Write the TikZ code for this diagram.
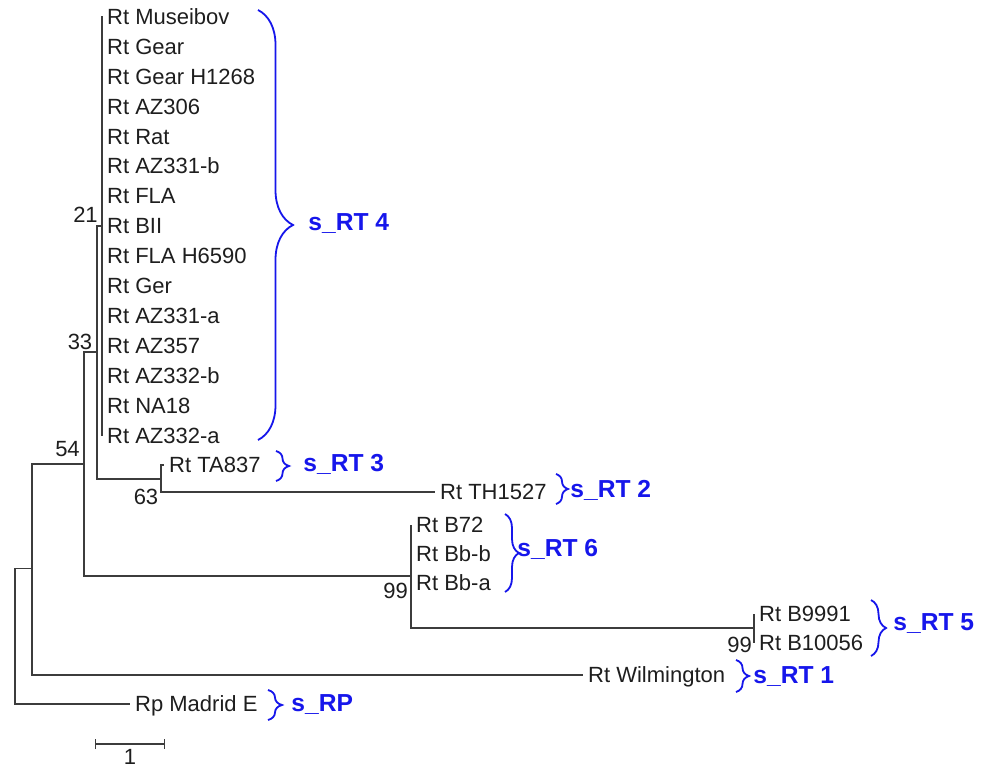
\documentclass[tikz,border=0pt]{standalone}
\usepackage{fontspec}
\setmainfont{Liberation Sans}
\usetikzlibrary{decorations.pathreplacing,arrows.meta}

\definecolor{treegray}{RGB}{60,60,60}
\definecolor{labelblack}{RGB}{30,30,30}
\definecolor{grpblue}{RGB}{22,22,235}

\tikzset{
  branch/.style={draw=treegray, line width=0.7pt},
  leaf/.style={anchor=west, inner sep=2.4pt, text height=7.8pt, text depth=0pt,
    text=labelblack, font=\fontsize{11}{12}\selectfont},
  boot/.style={inner sep=0pt, text=labelblack, font=\fontsize{11}{12}\selectfont},
  grp/.style={anchor=west, inner sep=0pt, text=grpblue,
    font=\bfseries\fontsize{12.3}{14}\selectfont},
  grpbrace/.style={draw=grpblue, line width=0.9pt,
    decorate, decoration={brace, amplitude=#1}},
}

\begin{document}
\begin{tikzpicture}[x=0.5pt, y=-0.5pt]
    \fill[white] (0,0) rectangle (988,769);
    \useasboundingbox (0,0) rectangle (988,769);

    % inner nodes of the tree
    \coordinate (root) at (15,635.5);
    \coordinate (nA) at (32,568.5);
    \coordinate (n54) at (84,464);
    \coordinate (n33) at (97,352);
    \coordinate (n21) at (102,226);
    \coordinate (n63) at (161,479);
    \coordinate (n99) at (411,576);
    \coordinate (n5) at (754,628);

    % leaves
    \foreach \n/\t [count=\i from 0] in {museibov/Rt Museibov, gear/Rt Gear,
        gearh/Rt Gear H1268, az306/Rt AZ306, rat/Rt Rat, az331b/Rt AZ331-b,
        fla/Rt FLA, bii/Rt BII, flah/Rt FLA H6590, ger/Rt Ger,
        az331a/Rt AZ331-a, az357/Rt AZ357, az332b/Rt AZ332-b, na18/Rt NA18,
        az332a/Rt AZ332-a}
      \node[leaf] (\n) at (102,{16.5+29.93*\i}) {\t};
    \node[leaf] (ta837) at (164,465) {Rt TA837};
    \node[leaf] (th1527) at (435,492) {Rt TH1527};
    \node[leaf] (b72) at (411,525) {Rt B72};
    \node[leaf] (bbb) at (411,554) {Rt Bb-b};
    \node[leaf] (bba) at (411,583) {Rt Bb-a};
    \node[leaf] (b9991) at (754,614) {Rt B9991};
    \node[leaf] (b10056) at (754,643) {Rt B10056};
    \node[leaf] (wilm) at (583,675) {Rt Wilmington};
    \node[leaf] (madrid) at (130,704) {Rp Madrid E};

    % branches
    \draw[branch] (root) |- (nA);
    \draw[branch] (root) |- (madrid.west);
    \draw[branch] (nA) |- (n54);
    \draw[branch] (nA) |- (wilm.west);
    \draw[branch] (n54) |- (n33);
    \draw[branch] (n54) |- (n99);
    \draw[branch] (n33) |- (n21);
    \draw[branch] (n33) |- (n63);
    \draw[branch] (museibov.west) -- (az332a.west);
    \draw[branch] (n63) |- (ta837.west);
    \draw[branch] (n63) |- (th1527.west);
    \draw[branch] (n99) |- (b72.west);
    \draw[branch] (n99) |- (n5);
    \draw[branch] (b9991.west) -- (b10056.west);

    % bootstrap values
    \node[boot] (b21) at (85.5,215) {21};
    \node[boot] (b33) at (80,341.5) {33};
    \node[boot] (b54) at (67.5,449.5) {54};
    \node[boot] (b63) at (146,497) {63};
    \node[boot] (b99a) at (395.5,591) {99};
    \node[boot] (b99b) at (739.5,645) {99};

    % groups
    \draw[grpbrace=17.5pt] (258,10) -- (258,440);
    \node[grp] (g4) at (308,224) {s\_RT 4};
    \draw[grpbrace=6.5pt] (276,451) -- (276,481);
    \node[grp] (g3) at (303,464) {s\_RT 3};
    \draw[grpbrace=6pt] (556,474) -- (556,504);
    \node[grp] (g2) at (570,490) {s\_RT 2};
    \draw[grpbrace=7pt] (505,514) -- (505,592);
    \node[grp] (g6) at (517,549) {s\_RT 6};
    \draw[grpbrace=7.5pt] (871,600) -- (871,656);
    \node[grp] (g5) at (893,624) {s\_RT 5};
    \draw[grpbrace=6.5pt] (736,660) -- (736,692);
    \node[grp] (g1) at (753,677) {s\_RT 1};
    \draw[grpbrace=7pt] (268,690) -- (268,720);
    \node[grp] (gp) at (291,705) {s\_RP};

    % scale bar
    \coordinate (sbl) at (95,744);
    \coordinate (sbr) at (165,744);
    \draw[branch, {Bar[width=5pt]}-{Bar[width=5pt]}] (sbl) -- (sbr);
    \node[boot] (sblab) at (130,757) {1};
\end{tikzpicture}
\end{document}
